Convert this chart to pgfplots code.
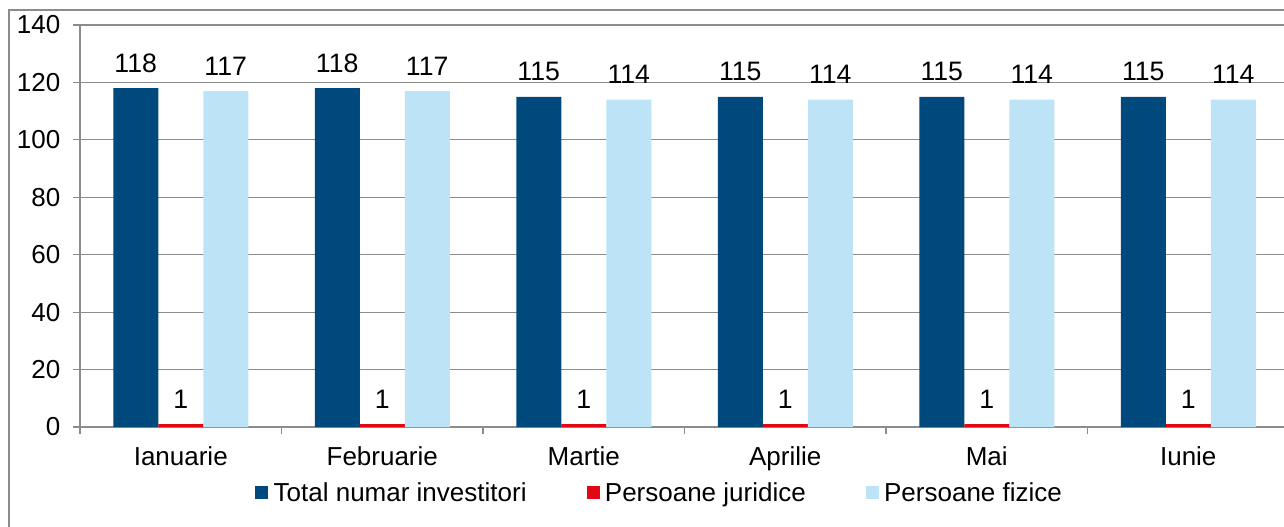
\documentclass[border=0pt]{standalone}
\usepackage{pgfplots}
\pgfplotsset{compat=1.18}
\usepackage{fontspec}
\setmainfont{Liberation Sans}
\definecolor{dblue}{RGB}{0,73,124}
\definecolor{cred}{RGB}{227,6,19}
\definecolor{lblue}{RGB}{189,227,247}
\definecolor{gridc}{RGB}{140,140,140}
\begin{document}
\begin{tikzpicture}
\useasboundingbox (0,0) rectangle (963pt,394.5pt);
\clip (0,0) rectangle (963pt,394.5pt);
\draw[gridc, line width=0.9pt] (6.75pt,-20pt) rectangle (1000pt,387pt);
\begin{axis}[
  at={(60pt,74.25pt)}, anchor=south west,
  scale only axis, width=906.75pt, height=301.5pt,
  ybar=0pt, bar width=33.75pt,
  xmin=-0.5, xmax=5.5, ymin=0, ymax=140,
  ytick={0,20,...,140},
  xtick={0,1,2,3,4,5},
  xticklabels={Ianuarie,Februarie,Martie,Aprilie,Mai,Iunie},
  minor xtick={-0.5,0.5,1.5,2.5,3.5,4.5,5.5},
  major x tick style={draw=none},
  minor x tick style={gridc, line width=0.9pt},
  y tick style={gridc, line width=0.9pt},
  tick align=outside,
  major tick length=5.25pt, minor tick length=5.25pt,
  axis x line*=bottom, axis y line*=left,
  axis line style={-, gridc, line width=0.9pt},
  ymajorgrids, grid style={gridc, line width=0.9pt},
  /pgf/number format/assume math mode=true,
  tick label style={font=\fontsize{19.5}{22}\selectfont, text=black},
  yticklabel style={xshift=-6pt},
  xticklabel style={yshift=-6pt},
  nodes near coords,
  every node near coord/.append style={font=\fontsize{20}{22}\selectfont, text=black, anchor=base, inner sep=0pt, yshift=12pt},
  legend style={at={(0.4797,-0.164)}, anchor=center, draw=none, fill=none,
    legend columns=3, font=\fontsize{19.5}{22}\selectfont,
    /tikz/every odd column/.append style={column sep=2pt},
    /tikz/every even column/.append style={column sep=43pt}},
  legend cell align=left,
  legend image code/.code={\fill[#1] (0pt,-4.875pt) rectangle (9.75pt,4.875pt);},
]
\addplot[fill=dblue, draw=none] coordinates {(0,118) (1,118) (2,115) (3,115) (4,115) (5,115)};
\addplot[fill=cred, draw=none] coordinates {(0,1) (1,1) (2,1) (3,1) (4,1) (5,1)};
\addplot[fill=lblue, draw=none] coordinates {(0,117) (1,117) (2,114) (3,114) (4,114) (5,114)};
\legend{Total numar investitori, Persoane juridice, Persoane fizice}
\end{axis}
\end{tikzpicture}
\end{document}
